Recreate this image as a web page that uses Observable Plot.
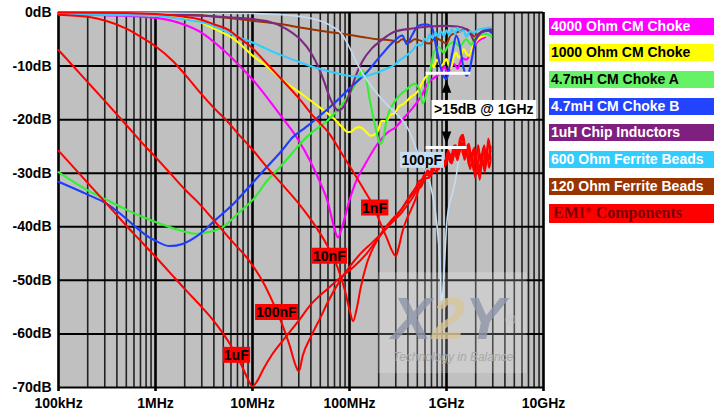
<!DOCTYPE html>
<html><head><meta charset="utf-8">
<script src="https://cdn.jsdelivr.net/npm/d3@7"></script>
<script src="https://cdn.jsdelivr.net/npm/@observablehq/plot@0.6"></script>
<style>
body{margin:0;background:#fff;}
#wrap{position:relative;width:720px;height:415px;overflow:hidden;font-family:"Liberation Sans",Arial,sans-serif;}
#chart{position:absolute;left:0;top:0;}
.leg{position:absolute;left:549px;width:165px;height:17px;line-height:17px;font-weight:bold;font-size:14px;padding-left:2px;box-sizing:border-box;white-space:nowrap;}
.emi{font-family:"Liberation Serif","Times New Roman",serif;font-size:16px;height:18.5px;line-height:18.5px;padding-left:4px;}
.emi sup{font-size:9px;vertical-align:5px;line-height:0;}
</style></head><body>
<div id="wrap"><div id="chart"></div><div id="legend"></div></div>
<script>
// ---------- axis ticks ----------
const xTickValues = [1e5, 1e6, 1e7, 1e8, 1e9, 1e10];
const xTickLabels = ["100kHz", "1MHz", "10MHz", "100MHz", "1GHz", "10GHz"];
const yTickValues = [0, -10, -20, -30, -40, -50, -60, -70];
const yTickLabels = ["0dB", "-10dB", "-20dB", "-30dB", "-40dB", "-50dB", "-60dB", "-70dB"];

// ---------- legend ----------
const legendLabels = ["4000 Ohm CM Choke", "1000 Ohm CM Choke", "4.7mH CM Choke A", "4.7mH CM Choke B",
  "1uH Chip Inductors", "600 Ohm Ferrite Beads", "120 Ohm Ferrite Beads"];
const legendFills = ["#ff00ff", "#ffff00", "#66f266", "#2244ff", "#7f1f7f", "#33ccff", "#993300"];
const legendText = ["#fff", "#000", "#000", "#fff", "#fff", "#fff", "#fff"];

// ---------- series: [frequency Hz, dB] ----------
const choke4000 = [[1e5,-0.3],[3e5,-0.5],[1e6,-1],[2e6,-2.3],[3e6,-3.8],[5e6,-7],[7e6,-9.5],[1e7,-12.5],[1.5e7,-16.5],[2e7,-19.5],[2.9e7,-23.5],[4e7,-28],[5e7,-31.8],[6e7,-35.5],[6.8e7,-39.5],[7.6e7,-42],[8.4e7,-40],[1e8,-35],[1.2e8,-31],[1.4e8,-28.8],[1.95e8,-24.5],[2.5e8,-22.3],[2.95e8,-21.5],[3.5e8,-20],[4.4e8,-18],[5.5e8,-15.6],[6.4e8,-13.3],[7.7e8,-12],[8.9e8,-11],[9.5e8,-10],[1.02e9,-11.5],[1.1e9,-10.4],[1.2e9,-9.6],[1.3e9,-10.5],[1.45e9,-8.5],[1.6e9,-8.8],[1.85e9,-6.8],[2.1e9,-5.4],[2.5e9,-4.6]];

const choke1000 = [[1e5,-0.2],[1e6,-0.6],[1.9e6,-1.1],[2.9e6,-1.8],[4e6,-3],[6.5e6,-5],[1.06e7,-8.4],[1.4e7,-10],[2e7,-12.5],[3.1e7,-15],[5e7,-17.8],[6.9e7,-19.8],[8.5e7,-21.5],[9.5e7,-22.3],[1.05e8,-22.2],[1.15e8,-21.6],[1.28e8,-21.4],[1.45e8,-22.1],[1.65e8,-23],[1.8e8,-22.8],[1.95e8,-22.2],[2.15e8,-20.2],[2.4e8,-20.3],[2.6e8,-19.2],[2.85e8,-18.9],[3.05e8,-18.3],[3.2e8,-17.6],[3.5e8,-17.2],[3.75e8,-16.8],[4.1e8,-16.1],[4.4e8,-15.6],[4.7e8,-15.3],[5.1e8,-14.6],[5.5e8,-13.4],[5.9e8,-12.4],[6.4e8,-11.6],[6.7e8,-11.2],[7e8,-9.5],[7.4e8,-10.2],[7.9e8,-8.8],[8.4e8,-9.4],[8.9e8,-10],[9.5e8,-9.2],[1e9,-8.7],[1.05e9,-9.8],[1.1e9,-10.5],[1.18e9,-8.6],[1.26e9,-7.5],[1.33e9,-8.4],[1.4e9,-8.1],[1.5e9,-6.8],[1.6e9,-7.6],[1.7e9,-8.1],[1.85e9,-6.5],[2.1e9,-5],[2.5e9,-4.3]];

const chokeA = [[1e5,-29.8],[2e5,-33.2],[3e5,-34.8],[5e5,-36.8],[7e5,-38],[1e6,-39.1],[1.6e6,-40.4],[2.6e6,-41.3],[3.5e6,-41],[4.9e6,-40.1],[7e6,-37.6],[1.06e7,-34.5],[1.4e7,-31.5],[1.79e7,-29.5],[2.5e7,-26.5],[3.1e7,-24.5],[3.9e7,-22.7],[5.9e7,-20.2],[8.7e7,-16.8],[1.1e8,-14],[1.2e8,-12.8],[1.35e8,-10.9],[1.45e8,-11.5],[1.6e8,-15.8],[1.85e8,-21.4],[2e8,-23.9],[2.09e8,-24.5],[2.25e8,-23.3],[2.4e8,-20.2],[2.95e8,-16.5],[3.75e8,-14.6],[4.7e8,-13.3],[5.3e8,-14.6],[5.7e8,-17],[6.3e8,-14.6],[6.9e8,-10.2],[7.4e8,-7.5],[8.3e8,-6.5],[9.4e8,-7.5],[1.05e9,-6],[1.2e9,-5.5],[1.37e9,-6.3],[1.6e9,-5],[1.8e9,-6],[1.93e9,-5],[2.2e9,-4.2],[2.6e9,-4],[2.9e9,-4.5]];

const chokeB = [[1e5,-31.6],[2e5,-34],[3e5,-35.5],[4.5e5,-37.8],[6.2e5,-40],[8e5,-41.6],[1e6,-42.6],[1.4e6,-43.6],[1.9e6,-43.2],[2.6e6,-41.9],[3.3e6,-40.4],[4.1e6,-38.8],[6.3e6,-35.8],[1.06e7,-31.3],[1.4e7,-28.9],[2e7,-25.8],[2.6e7,-23.3],[3.5e7,-21.5],[4.3e7,-20.2],[6.9e7,-17],[1.02e8,-14],[1.5e8,-11.2],[2.09e8,-8.1],[2.9e8,-5.3],[3.5e8,-4.3],[3.9e8,-5.9],[4.4e8,-4.3],[5.1e8,-2.5],[6e8,-2.2],[7e8,-2.6],[7.9e8,-6.8],[8.6e8,-9.9],[9.3e8,-11.8],[1e9,-12.4],[1.08e9,-9.9],[1.17e9,-6.8],[1.26e9,-4.3],[1.37e9,-6.2],[1.48e9,-9.9],[1.6e9,-11.8],[1.7e9,-11.2],[1.85e9,-8.1],[2e9,-5],[2.3e9,-3.7],[2.7e9,-3.4],[2.9e9,-3.8]];

const chipInd = [[1e5,-0.2],[1e6,-0.3],[2.9e6,-0.6],[7e6,-1],[1.4e7,-1.6],[2.2e7,-3],[3.1e7,-5],[4e7,-7.5],[4.7e7,-9.9],[5.5e7,-13],[6.3e7,-16],[7e7,-17.6],[7.8e7,-18.3],[8.5e7,-17.8],[9.3e7,-16.6],[1.02e8,-14.8],[1.15e8,-12],[1.35e8,-9.2],[1.7e8,-6.7],[2.09e8,-5.3],[2.9e8,-3.6],[3.6e8,-3.2],[4.4e8,-3],[6.6e8,-2.6],[9.6e8,-2.5],[1.29e9,-2.6],[1.6e9,-3.1],[1.8e9,-4.3],[1.93e9,-5.3],[2.05e9,-4.8],[2.2e9,-4],[2.7e9,-3.1],[2.9e9,-3.1]];

const bead600 = [[1e5,-0.3],[1e6,-0.6],[2e6,-1.3],[3.3e6,-2],[5e6,-3.3],[7.2e6,-4.6],[1e7,-5.6],[1.4e7,-6.8],[2e7,-8],[3.1e7,-9.3],[4.5e7,-10.3],[6.9e7,-11.2],[9e7,-11.7],[1.2e8,-11.9],[1.5e8,-11.8],[1.95e8,-11.2],[2.4e8,-10.5],[2.9e8,-9.8],[3.3e8,-8.9],[3.7e8,-8.3],[4.4e8,-7.2],[5.1e8,-6],[5.5e8,-6.2],[5.9e8,-4.9],[6.3e8,-5.3],[6.7e8,-4.1],[7.2e8,-4.8],[7.7e8,-3.7],[8.2e8,-4.5],[8.8e8,-3.5],[9.4e8,-4.4],[1e9,-3.3],[1.07e9,-4.2],[1.14e9,-3.1],[1.22e9,-3.9],[1.3e9,-2.9],[1.4e9,-3.6],[1.5e9,-3.3],[1.6e9,-4.5],[1.75e9,-3.5],[1.93e9,-3.8],[2.1e9,-3.2],[2.3e9,-3.1],[2.6e9,-2.9],[2.9e9,-2.8]];

const bead120 = [[1e5,-0.1],[1e6,-0.2],[2.9e6,-0.5],[9.5e6,-1.5],[2e7,-2.2],[3.1e7,-2.8],[6.3e7,-3.7],[8.7e7,-4],[1.4e8,-4.6],[1.95e8,-5],[2.4e8,-5.1],[2.9e8,-5.3],[3.1e8,-5.6],[3.5e8,-5],[4.1e8,-5.6],[4.7e8,-5],[5.5e8,-5.3],[6.6e8,-5.8],[7.7e8,-4.7],[9e8,-5.4],[1e9,-5.8],[1.1e9,-4.3],[1.25e9,-3.8],[1.4e9,-3.4],[1.6e9,-3.1],[1.8e9,-3.8],[1.93e9,-4.5],[2.2e9,-3.8],[2.5e9,-3.3],[2.9e9,-3.5]];

const cap100p = [[1e5,0],[1e6,-0.1],[1e7,-0.2],[2e7,-0.4],[4.7e7,-1.4],[6.5e7,-2.5],[8.1e7,-3.8],[1e8,-6.5],[1.2e8,-9.6],[1.5e8,-12.5],[2e8,-15.5],[2.5e8,-17.4],[3e8,-18.8],[3.75e8,-20.8],[4.4e8,-23.3],[4.9e8,-25.6],[5.9e8,-29],[7.15e8,-33.8],[8e8,-40],[8.6e8,-47.5],[8.9e8,-54.5],[9.2e8,-52],[9.6e8,-46],[1e9,-40],[1.05e9,-36.5],[1.1e9,-35],[1.18e9,-33],[1.26e9,-30.5],[1.37e9,-26],[1.5e9,-23.5]];

const emi1u = [[1e5,-25.8],[2e5,-31.8],[3e5,-35.3],[5e5,-39.8],[7e5,-42.6],[1e6,-45.6],[1.4e6,-48.5],[2e6,-51.6],[3e6,-55],[4e6,-57.6],[5e6,-60],[6e6,-62.2],[7e6,-64.3],[8e6,-66.5],[9e6,-68.5],[1e7,-69.8],[1.1e7,-69],[1.3e7,-66.5],[1.6e7,-63.8],[2.1e7,-61],[3e7,-57.5],[4e7,-54.5],[6e7,-51.5],[8e7,-49.5],[1.1e8,-47.5],[1.5e8,-45],[2e8,-42],[2.6e8,-39.5],[3.2e8,-37.5],[4e8,-35],[4.6e8,-33.5],[5.2e8,-31.5],[5.8e8,-31],[6.4e8,-29.5],[7e8,-30.2],[7.6e8,-28.5],[8.3e8,-29.3],[9e8,-27.5],[9.7e8,-28.6],[1.05e9,-26.5],[1.13e9,-28.2],[1.22e9,-25.8],[1.3e9,-27.6],[1.4e9,-24.5],[1.5e9,-26.8],[1.6e9,-25.5],[1.7e9,-28.5],[1.8e9,-26.2],[1.9e9,-29.5],[2e9,-27],[2.15e9,-30],[2.3e9,-26.5],[2.45e9,-28.8],[2.6e9,-25.5],[2.75e9,-27.5],[2.85e9,-25]];

const emi100n = [[1e5,-7],[2e5,-13],[3e5,-16.5],[5e5,-21],[7e5,-24],[1e6,-27],[1.5e6,-30.5],[2e6,-33],[2.7e6,-35.3],[4e6,-38.8],[6e6,-42.5],[9.4e6,-46.5],[1.3e7,-50.5],[1.64e7,-54.3],[2e7,-58],[2.4e7,-62],[2.8e7,-66],[3e7,-67],[3.3e7,-64],[4e7,-60.5],[5e7,-57],[6e7,-54],[8e7,-50],[1e8,-47.5],[1.3e8,-45],[1.7e8,-43],[2.2e8,-41],[2.8e8,-39],[3.4e8,-37.5],[4e8,-35.8],[4.5e8,-34.5],[5e8,-33],[5.5e8,-32.5],[6e8,-31],[6.6e8,-30.8],[7.2e8,-29],[7.9e8,-29.8],[8.6e8,-27.8],[9.4e8,-28.8],[1.02e9,-26.8],[1.1e9,-28],[1.18e9,-25.2],[1.27e9,-27],[1.36e9,-25.8],[1.46e9,-23.2],[1.56e9,-26.5],[1.66e9,-24.8],[1.78e9,-27.5],[1.9e9,-25.5],[2e9,-28],[2.12e9,-24.8],[2.25e9,-27.8],[2.4e9,-25.2],[2.55e9,-28.5],[2.7e9,-24],[2.85e9,-27.2]];

const emi10n = [[1e5,-0.4],[2e5,-0.8],[3e5,-1.5],[5e5,-3],[7e5,-4.5],[1e6,-6.3],[1.5e6,-9],[2e6,-11.5],[2.9e6,-15],[4e6,-17.8],[5.5e6,-20.3],[7e6,-22.5],[1e7,-25.6],[1.4e7,-28.8],[2e7,-32],[3.1e7,-36],[4.5e7,-40],[5.9e7,-43.5],[7.5e7,-47.5],[9e7,-52],[1e8,-55.5],[1.09e8,-57.6],[1.18e8,-55.5],[1.3e8,-51.5],[1.5e8,-47],[1.8e8,-43.5],[2.2e8,-40.8],[2.8e8,-38.5],[3.5e8,-36.5],[4.2e8,-34.2],[4.8e8,-32.8],[5.4e8,-31.8],[6e8,-30.2],[6.7e8,-30.5],[7.4e8,-28.6],[8.1e8,-29.2],[8.9e8,-27.2],[9.7e8,-28.5],[1.06e9,-26.2],[1.15e9,-27.8],[1.24e9,-24.8],[1.34e9,-26.6],[1.44e9,-24.2],[1.53e9,-27.5],[1.64e9,-26],[1.75e9,-29.2],[1.86e9,-27],[1.97e9,-30.8],[2.08e9,-28],[2.2e9,-31.2],[2.33e9,-27.5],[2.48e9,-29.8],[2.62e9,-26.5],[2.75e9,-29],[2.85e9,-27.5]];

const emi1n = [[1e5,0],[5e5,-0.1],[1e6,-0.3],[2e6,-0.8],[2.9e6,-1.3],[4e6,-2.2],[5.6e6,-3.2],[7e6,-4.5],[9.5e6,-6.3],[1.4e7,-9.5],[2e7,-12.5],[3e7,-16],[4.3e7,-19.5],[6.3e7,-22.8],[8e7,-25.8],[1.02e8,-28.9],[1.4e8,-33],[1.8e8,-36.5],[2.1e8,-39.5],[2.45e8,-42.3],[2.75e8,-44.5],[3e8,-45.5],[3.2e8,-44],[3.5e8,-41],[3.9e8,-38.5],[4.27e8,-37],[4.8e8,-34.8],[5.3e8,-32.5],[5.8e8,-31.5],[6.3e8,-29.8],[6.9e8,-30.5],[7.5e8,-28.2],[8.2e8,-29],[8.9e8,-26.8],[9.6e8,-28],[1.04e9,-25.8],[1.12e9,-27.5],[1.2e9,-24.8],[1.29e9,-26.8],[1.38e9,-23.5],[1.48e9,-22.8],[1.58e9,-25.8],[1.7e9,-24.5],[1.82e9,-27.8],[1.94e9,-25.2],[2.06e9,-29.2],[2.18e9,-26.2],[2.3e9,-28.5],[2.44e9,-24.8],[2.58e9,-27.2],[2.7e9,-23.5],[2.85e9,-26]];

// ---------- annotations ----------
const capLabelText = ["1nF", "10nF", "100nF", "1uF"];
const capLabelFreq = [1.81e8, 6.2e7, 1.76e7, 6.8e6];
const capLabelDb = [-36.5, -45.5, -56, -64];
const pfLabel = [{f: 5.56e8, db: -27.6, t: "100pF"}];
const gapLabel = [{f: 2.42e9, db: -18.2, t: ">15dB @ 1GHz"}];
const whiteBars = [{f1: 6.17e8, f2: 1.78e9, db: -11.35}, {f1: 6.17e8, f2: 1.63e9, db: -25.2}];
const arrowStem = [{f: 1e9, db1: -14.9, db2: -22.3}];
const arrowHeadsUp = [{f: 1e9, db: -14.96}];
const arrowHeadsDown = [{f: 1e9, db: -22.2}];
const wmBox = [{f1: 2.0e8, f2: 6.8e9, db1: -48.6, db2: -67.4}];
const wmLogo = [{f: 1.18e9, db: -57.3, t: "X2Y"}];
const wmTag = [{f: 1.17e9, db: -64.4, t: "Technology in Balance"}];

// ---------- build ----------
const minorTicks = [];
for (let d = 1e5; d < 1e10; d *= 10) for (let k = 2; k <= 9; k++) minorTicks.push(k * d);
const xLabelMap = new Map(xTickValues.map((v, i) => [v, xTickLabels[i]]));
const yLabelMap = new Map(yTickValues.map((v, i) => [v, yTickLabels[i]]));
const pts = a => a.map(([f, db]) => ({f, db}));
const capLabels = capLabelText.map((t, i) => ({t, f: capLabelFreq[i], db: capLabelDb[i]}));

const upSym = {draw(c) { c.moveTo(0, -12.5); c.lineTo(4.8, 0); c.lineTo(-4.8, 0); c.closePath(); }};
const downSym = {draw(c) { c.moveTo(0, 12.5); c.lineTo(4.8, 0); c.lineTo(-4.8, 0); c.closePath(); }};

const series = [
  [bead120, "#993300", 2],
  [choke4000, "#ff00ff", 2.1],
  [choke1000, "#ffff00", 2.1],
  [chokeA, "#33ee33", 2.1],
  [chokeB, "#1e3cff", 2.1],
  [chipInd, "#7b2a82", 2.1],
  [bead600, "#33ccff", 2.1],
  [cap100p, "#c4dcf2", 1.6],
  [emi1u, "#ff0000", 2],
  [emi100n, "#ff0000", 2],
  [emi10n, "#ff0000", 2],
  [emi1n, "#ff0000", 2]
];

const chart = Plot.plot({
  width: 548, height: 415,
  marginLeft: 58, marginRight: 5, marginTop: 12, marginBottom: 28,
  x: {type: "log", domain: [1e5, 1e10], axis: null},
  y: {domain: [-70, 0], axis: null},
  style: {fontFamily: "'Liberation Sans', Arial, sans-serif", background: "#fff", color: "#000", overflow: "visible"},
  marks: [
    Plot.frame({fill: "#c0c0c0", stroke: "none"}),
    Plot.ruleX(minorTicks, {stroke: "#222", strokeWidth: 1.6}),
    Plot.ruleY(yTickValues, {stroke: "#000", strokeWidth: 2}),
    Plot.ruleX(xTickValues, {stroke: "#000", strokeWidth: 2.6}),
    ...series.map(([d, c, w]) => Plot.line(pts(d), {x: "f", y: "db", stroke: c, strokeWidth: w, curve: "monotone-x"})),
    Plot.rect(wmBox, {x1: "f1", x2: "f2", y1: "db1", y2: "db2", fill: "#fff", fillOpacity: 0.2}),
    Plot.text(wmLogo, {x: "f", y: "db", text: "t", className: "wmlogo", fontSize: 60, fontWeight: "bold", fontStyle: "italic", fill: "#8f95aa", fillOpacity: 0.8}),
    Plot.text(wmTag, {x: "f", y: "db", text: "t", fontSize: 12, fontStyle: "italic", fill: "#a9a9a9"}),
    Plot.ruleY(whiteBars, {x1: "f1", x2: "f2", y: "db", stroke: "#fff", strokeWidth: 3}),
    Plot.ruleX(arrowStem, {x: "f", y1: "db1", y2: "db2", stroke: "#000", strokeWidth: 2}),
    Plot.dot(arrowHeadsUp, {x: "f", y: "db", symbol: upSym, fill: "#000", stroke: "none"}),
    Plot.dot(arrowHeadsDown, {x: "f", y: "db", symbol: downSym, fill: "#000", stroke: "none"}),
    Plot.text(capLabels, {x: "f", y: "db", text: "t", className: "caplab", fontSize: 14, fontWeight: "bold", fill: "#000"}),
    Plot.text(pfLabel, {x: "f", y: "db", text: "t", className: "pflab", fontSize: 14, fontWeight: "bold", fill: "#000"}),
    Plot.text(gapLabel, {x: "f", y: "db", text: "t", className: "gaplab", fontSize: 14, fontWeight: "bold", fill: "#000"}),
    Plot.axisX(xTickValues, {tickFormat: d => xLabelMap.get(d), tickSize: 4, tickPadding: 7, strokeWidth: 2.6, fontSize: 14, fontWeight: "bold"}),
    Plot.axisY(yTickValues, {tickFormat: d => yLabelMap.get(d), tickSize: 0, tickPadding: 7, fontSize: 14, fontWeight: "bold"})
  ]
});
document.getElementById("chart").appendChild(chart);

function boxes(cls, fill, px, py) {
  chart.querySelectorAll(`g.${cls} text`).forEach(t => {
    const b = t.getBBox();
    const r = document.createElementNS("http://www.w3.org/2000/svg", "rect");
    r.setAttribute("x", b.x - px); r.setAttribute("y", b.y - py);
    r.setAttribute("width", b.width + 2 * px); r.setAttribute("height", b.height + 2 * py);
    r.setAttribute("fill", fill);
    const tr = t.getAttribute("transform");
    if (tr) r.setAttribute("transform", tr);
    t.parentNode.insertBefore(r, t);
  });
}
boxes("caplab", "#ff0000", 1, 0);
boxes("pflab", "#c6def4", 1.5, 0);
boxes("gaplab", "#ffffff", 2.5, 1.5);
chart.querySelectorAll("g.wmlogo text").forEach(t => {
  t.innerHTML = '<tspan fill="#8f95aa">X</tspan><tspan fill="#d8c69a">2</tspan><tspan fill="#8f95aa">Y</tspan><tspan fill="#bfc3cf" font-size="14" dy="-14">®</tspan>';
});

// legend
const legend = document.getElementById("legend");
legendLabels.forEach((lab, i) => {
  const d = document.createElement("div");
  d.className = "leg";
  d.style.top = (17.7 + i * 26.65) + "px";
  d.style.background = legendFills[i];
  d.style.color = legendText[i];
  d.textContent = lab;
  legend.appendChild(d);
});
const emi = document.createElement("div");
emi.className = "leg emi";
emi.style.top = "204.2px";
emi.style.background = "#ff0000";
emi.style.color = "#7a0000";
emi.innerHTML = "EMI<sup>®</sup> Components";
legend.appendChild(emi);
</script>
</body></html>
